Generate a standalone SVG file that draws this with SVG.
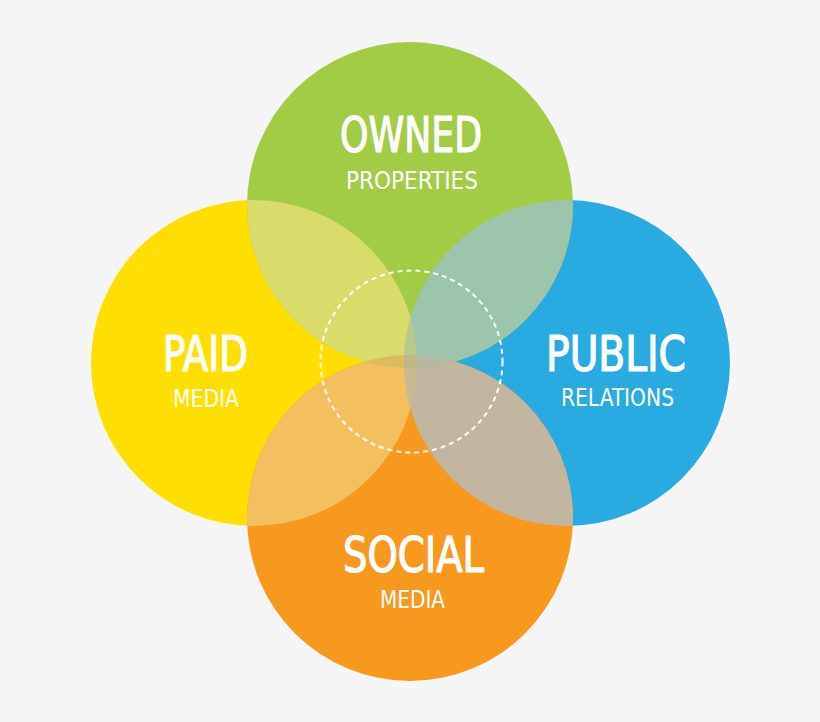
<svg xmlns="http://www.w3.org/2000/svg" width="820" height="722" viewBox="0 0 820 722">
<style>
.big{font-family:"DejaVu Sans Condensed","Liberation Sans Narrow","Liberation Sans",sans-serif;font-size:49px;font-weight:normal;fill:#fff;stroke:#fff;stroke-width:1.2;text-anchor:middle}
.sub{font-family:"DejaVu Sans Condensed","Liberation Sans Narrow","Liberation Sans",sans-serif;font-size:25px;font-weight:normal;fill:#fff;text-anchor:middle}
</style>
<defs>
<clipPath id="cG"><circle cx="410" cy="205" r="163"/></clipPath>
<clipPath id="cY"><circle cx="254" cy="363" r="163"/></clipPath>
<clipPath id="cB"><circle cx="567" cy="363" r="163"/></clipPath>
<clipPath id="cO"><circle cx="410" cy="518" r="163"/></clipPath>
</defs>
<rect width="820" height="722" fill="#f5f5f5"/>
<g id="paid"><circle cx="254" cy="363" r="163" fill="#ffdf00"/></g>
<g id="public"><circle cx="567" cy="363" r="163" fill="#29abe2"/></g>
<g id="owned"><circle cx="410" cy="205" r="163" fill="#a2cb46"/></g>
<g id="social"><circle cx="410" cy="518" r="163" fill="#f7981f"/></g>
<g id="overlaps">
<g clip-path="url(#cG)"><circle cx="254" cy="363" r="163" fill="#d9db6a"/></g>
<g clip-path="url(#cG)"><circle cx="567" cy="363" r="163" fill="#9dc5ac"/></g>
<g clip-path="url(#cO)"><circle cx="254" cy="363" r="163" fill="#f4bf5f"/></g>
<g clip-path="url(#cO)"><circle cx="567" cy="363" r="163" fill="#c2b6a0"/></g>
<g clip-path="url(#cG)"><g clip-path="url(#cY)"><circle cx="567" cy="363" r="163" fill="#b8c98e"/></g></g>
<g clip-path="url(#cG)"><g clip-path="url(#cY)"><circle cx="410" cy="518" r="163" fill="#d9bd5f"/></g></g>
<g clip-path="url(#cG)"><g clip-path="url(#cB)"><circle cx="410" cy="518" r="163" fill="#b4b9a0"/></g></g>
<g clip-path="url(#cO)"><g clip-path="url(#cY)"><circle cx="567" cy="363" r="163" fill="#cab88e"/></g></g>
<g clip-path="url(#cG)"><g clip-path="url(#cY)"><g clip-path="url(#cB)"><circle cx="410" cy="518" r="163" fill="#c1b68a"/></g></g></g>
</g>
<g id="connectors"></g>
<g id="center"><circle cx="411.5" cy="361.5" r="91" fill="none" stroke="#fff" stroke-width="2" stroke-dasharray="5 4"/></g>
<g id="owned-label">
<text class="big" x="411" y="152" textLength="142" lengthAdjust="spacingAndGlyphs">OWNED</text>
<text class="sub" x="412" y="189" textLength="132" lengthAdjust="spacingAndGlyphs">PROPERTIES</text>
</g>
<g id="paid-label">
<text class="big" x="205.5" y="371" textLength="85" lengthAdjust="spacingAndGlyphs">PAID</text>
<text class="sub" x="206" y="407" textLength="66" lengthAdjust="spacingAndGlyphs">MEDIA</text>
</g>
<g id="public-label">
<text class="big" x="616" y="371" textLength="140" lengthAdjust="spacingAndGlyphs">PUBLIC</text>
<text class="sub" x="617.5" y="406" textLength="113" lengthAdjust="spacingAndGlyphs">RELATIONS</text>
</g>
<g id="social-label">
<text class="big" x="413.5" y="572" textLength="141" lengthAdjust="spacingAndGlyphs">SOCIAL</text>
<text class="sub" x="412.5" y="608" textLength="65" lengthAdjust="spacingAndGlyphs">MEDIA</text>
</g>
</svg>
